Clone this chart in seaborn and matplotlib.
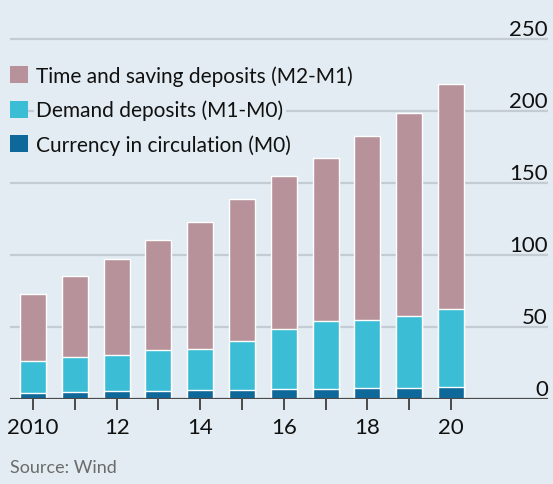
"""
China money supply, stacked bars (M0, M1-M0, M2-M1), trillion yuan
"""

import matplotlib
matplotlib.use('Agg')
import matplotlib.pyplot as plt
from matplotlib.patches import Patch
import seaborn as sns

# Dados (níveis acumulados: M0, M1, M2)
years = ['2010', '2011', '2012', '2013', '2014', '2015',
         '2016', '2017', '2018', '2019', '2020']
m0 = [4.5, 5.1, 5.5, 5.9, 6.0, 6.3, 6.8, 7.1, 7.3, 7.7, 8.4]
m1 = [26.7, 29.0, 30.9, 33.7, 34.8, 40.1, 48.7, 54.4, 55.2, 57.6, 62.6]
m2 = [72.6, 85.2, 97.4, 110.7, 122.8, 139.2, 155.0, 167.7, 182.7, 198.6, 218.7]

labels = ['Time and saving deposits (M2-M1)',
          'Demand deposits (M1-M0)',
          'Currency in circulation (M0)']
colors = ['#b8929b', '#3bbdd6', '#0f689a']
yticks = [0, 50, 100, 150, 200, 250]
xtick_labels = ['2010', '12', '14', '16', '18', '20']

bg = '#e2ecf2'
grid_color = '#c3ccd2'

sns.set_theme(style='white')
plt.rcParams['font.family'] = ['Lato', 'DejaVu Sans']

W, H = 553, 485
fig = plt.figure(figsize=(W / 100, H / 100), dpi=100, facecolor=bg)
ax = fig.add_axes([10 / W, 85 / H, 538 / W, 385 / H], facecolor=bg)

# Barras empilhadas: desenha o total e sobrepõe as camadas de baixo
for vals, c in zip([m2, m1, m0], colors):
    sns.barplot(x=years, y=vals, color=c, width=0.62, saturation=1,
                ax=ax, zorder=3)

ax.set_xlim(-0.55, 12.32)
ax.set_ylim(0, 267.4)

# Grade horizontal e linha de base
for v in yticks[1:]:
    ax.axhline(v, color=grid_color, lw=1.6, zorder=1)
ax.axhline(0, color='#4a4a4a', lw=1.6, zorder=4)

sns.despine(ax=ax, left=True, right=True, top=True, bottom=True)

# Eixo y à direita, rótulos acima das linhas
ax.yaxis.tick_right()
ax.set_yticks(yticks)
ax.set_yticklabels([str(v) for v in yticks])
ax.tick_params(axis='y', length=0, pad=0, labelsize=16, colors='#111111')
for lab in ax.get_yticklabels():
    lab.set_horizontalalignment('right')
    lab.set_verticalalignment('bottom')

# Eixo x: marcas em todos os anos, rótulos a cada dois
ax.set_xticks(range(0, 11, 2))
ax.set_xticklabels(xtick_labels)
ax.set_xticks(range(1, 11, 2), minor=True)
ax.tick_params(axis='x', which='both', bottom=True, direction='out',
               length=8, width=1.4, color='#4a4a4a', pad=5,
               labelsize=16, labelcolor='#111111')
ax.set_xlabel('')
ax.set_ylabel('')

handles = [Patch(facecolor=c, edgecolor='none') for c in colors]
leg = ax.legend(handles, labels, loc='upper left',
                bbox_to_anchor=(10 / W, 1 - 66 / H),
                bbox_transform=fig.transFigure,
                frameon=False, fontsize=15, borderpad=0, borderaxespad=0,
                handlelength=0.87, handleheight=0.87, handletextpad=0.4,
                labelspacing=0.68)
for t in leg.get_texts():
    t.set_color('#111111')
    t.set_bbox(dict(facecolor=bg, edgecolor='none', pad=2))

fig.text(10 / W, 1 - 473 / H, 'Source: Wind', fontsize=13,
         color='#6b6b6b', va='baseline', ha='left')

fig.savefig('out.png', dpi=100, facecolor=bg)
